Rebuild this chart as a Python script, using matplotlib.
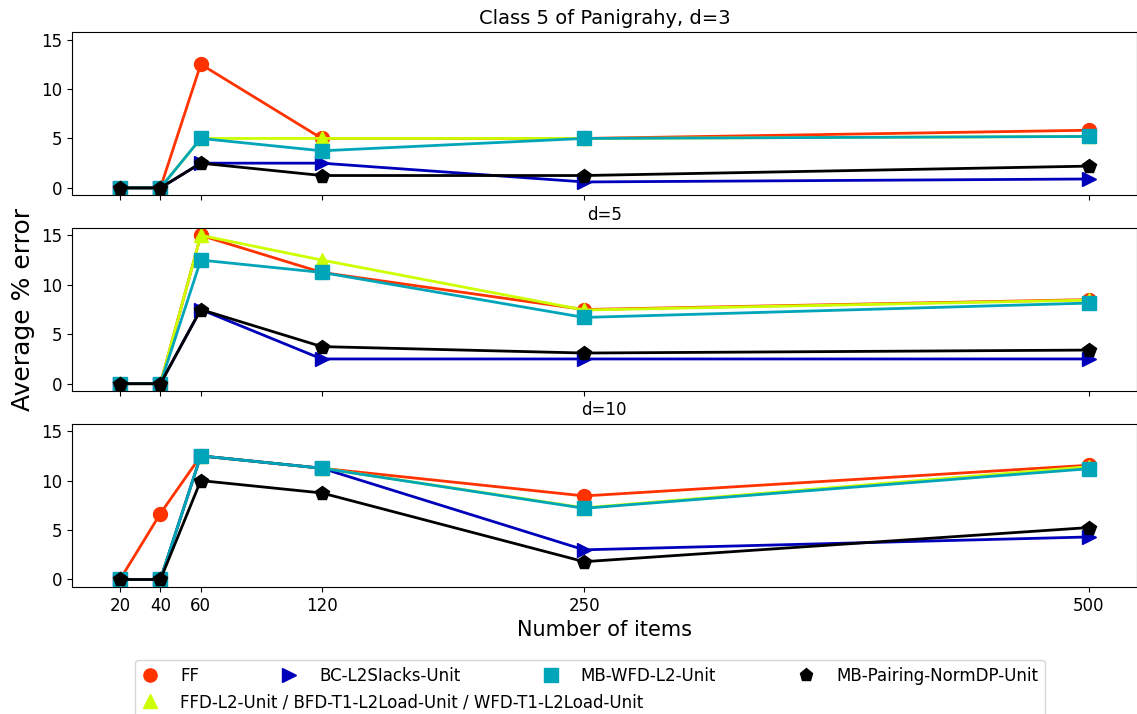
import matplotlib
matplotlib.use("Agg")
import matplotlib.pyplot as plt
from matplotlib.lines import Line2D

# number of items
items = [20, 40, 60, 120, 250, 500]
panel_titles = ["Class 5 of Panigrahy, d=3", "d=5", "d=10"]

series_names = ["FF",
                "FFD-L2-Unit / BFD-T1-L2Load-Unit / WFD-T1-L2Load-Unit",
                "BC-L2SIacks-Unit",
                "MB-WFD-L2-Unit",
                "MB-Pairing-NormDP-Unit"]

# average % error, one list per dimension d
ff = [[0, 0, 12.5, 5, 5, 5.83],
      [0, 0, 15, 11.25, 7.5, 8.5],
      [0, 6.67, 12.5, 11.25, 8.45, 11.55]]
ffd = [[0, 0, 5, 5, 5, 5.2],
       [0, 0, 15, 12.5, 7.45, 8.45],
       [0, 0, 12.5, 11.25, 7.25, 11.4]]
bc = [[0, 0, 2.5, 2.5, 0.6, 0.9],
      [0, 0, 7.5, 2.5, 2.5, 2.5],
      [0, 0, 12.5, 11.25, 3.0, 4.3]]
mb_wfd = [[0, 0, 5, 3.75, 5, 5.2],
          [0, 0, 12.5, 11.25, 6.7, 8.15],
          [0, 0, 12.5, 11.25, 7.2, 11.2]]
mb_pair = [[0, 0, 2.5, 1.25, 1.25, 2.2],
           [0, 0, 7.5, 3.75, 3.1, 3.4],
           [0, 0, 10, 8.75, 1.8, 5.25]]

all_series = [ff, ffd, bc, mb_wfd, mb_pair]
colors = ["#ff3300", "#ccff00", "#0000bb", "#00a5b9", "#000000"]
markers = ["o", "^", ">", "s", "p"]

fig, axes = plt.subplots(3, 1, figsize=(11.37, 7.14), dpi=100,
                         sharex=True, sharey=True)
fig.subplots_adjust(left=0.063, right=1.0, top=0.955, bottom=0.178,
                    hspace=0.2)

for i, ax in enumerate(axes):
    for data, name, c, m in zip(all_series, series_names, colors, markers):
        ax.plot(items, data[i], color=c, marker=m, markersize=10,
                linewidth=2, label=name)
    ax.set_title(panel_titles[i], fontsize=14 if i == 0 else 12)
    ax.set_yticks([0, 5, 10, 15])
    ax.tick_params(labelsize=12)

axes[-1].set_xticks(items)
axes[-1].set_xlabel("Number of items", fontsize=15)
fig.text(0.02, 0.566, "Average % error", rotation=90, fontsize=18,
         ha="center", va="center")

# legend: markers only; long FFD label drawn next to its marker afterwards
handles = [Line2D([], [], linestyle="none", marker=m, color=c, markersize=9.5)
           for c, m in zip(colors, markers)]
labels = list(series_names)
labels[1] = ""
leg = fig.legend(handles, labels, loc="upper center",
                 bbox_to_anchor=(0.519, 0.0756), borderaxespad=0,
                 ncol=4, fontsize=12, handlelength=1.0, handletextpad=1.3,
                 columnspacing=4.9)

fig.canvas.draw()
r = fig.canvas.get_renderer()
ff_text = leg.get_texts()[0].get_window_extent(r)
h_ff = leg.legend_handles[0].get_window_extent(r)
h_ffd = leg.legend_handles[1].get_window_extent(r)
dy = (h_ff.y0 + h_ff.y1) / 2 - (h_ffd.y0 + h_ffd.y1) / 2
x0, y0 = fig.transFigure.inverted().transform((ff_text.x0, ff_text.y0 - dy))
fig.text(x0, y0, series_names[1], fontsize=12, ha="left", va="bottom",
         zorder=10)

fig.savefig("out.png", dpi=100)
